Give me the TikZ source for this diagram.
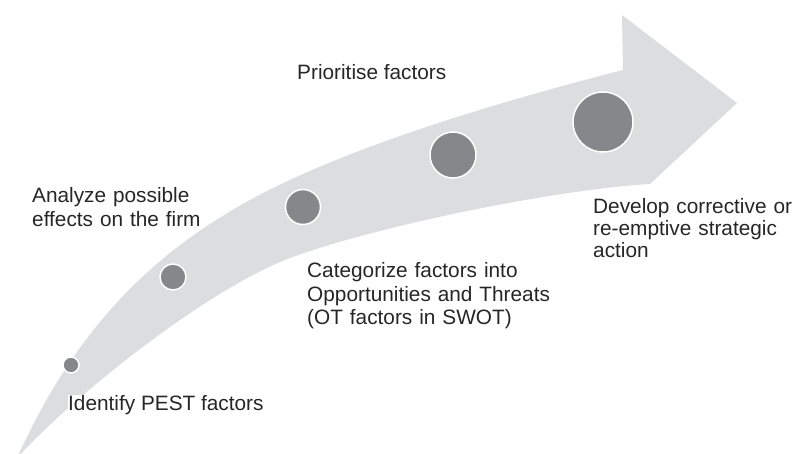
\documentclass[tikz,border=0pt]{standalone}
\usepackage{fontspec}
\setmainfont{Liberation Sans}
\definecolor{arrowgray}{HTML}{DCDDDF}
\definecolor{dotgray}{HTML}{86878B}
\definecolor{txt}{HTML}{262626}
\begin{document}
\begin{tikzpicture}[x=1pt,y=-1pt,
  dotnode/.style={circle, fill=dotgray, draw=white, line width=1.5pt, inner sep=0pt},
  txtlabel/.style={text=txt, anchor=base west, inner sep=0pt, align=left}]
\useasboundingbox (0,0) rectangle (795,454);
% curved arrow
\fill[arrowgray] (17,458) .. controls (75,330) and (150,255) .. (250,200)
  .. controls (350,145) and (513,98) .. (623,70) -- (622,15) -- (737,103) -- (650,184)
  .. controls (550,190) and (370,228) .. (290,258)
  .. controls (210,288) and (77,392) .. (17,458) -- cycle;
% dots
\node[dotnode, minimum size=16pt] (d1) at (71,365) {};
\node[dotnode, minimum size=26pt] (d2) at (173,277) {};
\node[dotnode, minimum size=35pt] (d3) at (303,207) {};
\node[dotnode, minimum size=46pt] (d4) at (453,155) {};
\node[dotnode, minimum size=60pt] (d5) at (603,122) {};
% labels
\node[txtlabel, fill=white, font=\fontsize{20.8}{24}\selectfont] (t1) at (68,410) {Identify PEST factors};
\node[txtlabel, text width=180pt, font=\fontsize{20.8}{24}\selectfont] (t2) at (32,203) {Analyze possible\\effects on the firm};
\node[txtlabel, font=\fontsize{20.8}{24}\selectfont] (t3) at (297,80) {Prioritise factors};
\node[txtlabel, text width=250pt, font=\fontsize{20.8}{23.5}\selectfont] (t4) at (307,278) {Categorize factors into\\Opportunities and Threats\\(OT factors in SWOT)};
\node[txtlabel, text width=200pt, font=\fontsize{20.8}{22}\selectfont] (t5) at (593,214) {Develop corrective or\\re-emptive strategic\\action};
\end{tikzpicture}
\end{document}
